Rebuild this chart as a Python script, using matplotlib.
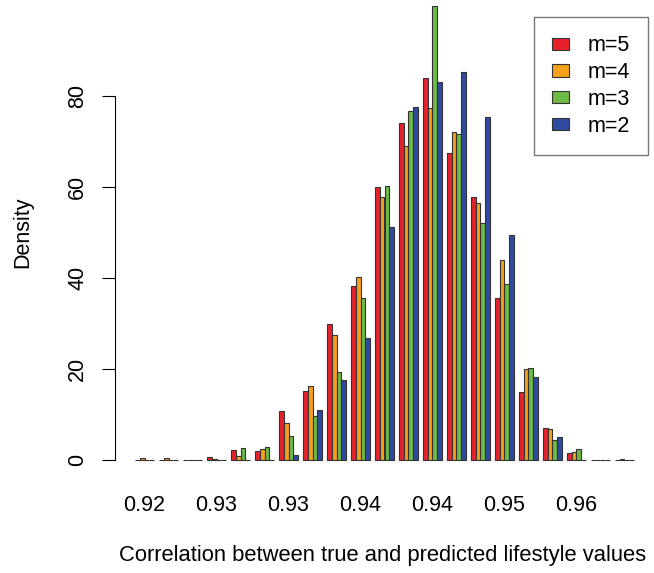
import matplotlib
matplotlib.use('Agg')
import matplotlib.pyplot as plt
from matplotlib.patches import Patch
import numpy as np

plt.rcParams['font.family'] = ['Liberation Sans', 'DejaVu Sans']

# density per bin, one list per m
red_m5 = [0, 0, 0, 0.6, 2.1, 2.0, 10.8, 15.2, 29.9, 38.2, 60.0, 74.0, 84.0, 67.4, 57.7, 35.5, 15.0, 7.0, 1.5, 0, 0]
orange_m4 = [0.4, 0.4, 0, 0.2, 0.8, 2.4, 8.1, 16.2, 27.4, 40.3, 57.7, 69.0, 77.3, 72.0, 56.5, 43.9, 19.9, 6.8, 1.8, 0, 0.3]
green_m3 = [0, 0, 0, 0, 2.7, 2.9, 5.2, 9.7, 19.4, 35.5, 60.2, 76.6, 99.7, 71.6, 52.0, 38.7, 20.3, 4.3, 2.5, 0, 0]
blue_m2 = [0, 0, 0, 0, 0, 0, 1.1, 11.0, 17.6, 26.9, 51.2, 77.5, 83.0, 85.2, 75.3, 49.5, 18.2, 5.0, 0, 0, 0]

series = [red_m5, orange_m4, green_m3, blue_m2]
labels = ['m=5', 'm=4', 'm=3', 'm=2']
colors = ['#E8202A', '#F6A11C', '#6DBB45', '#2F4A9E']

tick_groups = [0, 3, 6, 9, 12, 15, 18]
tick_labels = ['0.92', '0.93', '0.93', '0.94', '0.94', '0.95', '0.96']

fs = 15.5

fig = plt.figure(figsize=(6.54, 5.73), dpi=100)
ax = fig.add_axes([115 / 654, (573 - 478.2) / 573, 539 / 654, 491.4 / 573])

n_groups = len(red_m5)
groups = np.arange(n_groups)
for k, (vals, col, lab) in enumerate(zip(series, colors, labels)):
    ax.bar(groups * 5 + k + 0.5, vals, width=1.0, color=col,
           edgecolor='#333333', linewidth=0.8, label=lab)

ax.set_xlim(-4.16, 108.16)
ax.set_ylim(-4, 104)

for side in ['top', 'right', 'bottom']:
    ax.spines[side].set_visible(False)
ax.spines['left'].set_bounds(0, 80)
ax.spines['left'].set_linewidth(0.8)

ax.set_yticks([0, 20, 40, 60, 80])
ax.tick_params(axis='y', length=9.4, width=0.8, labelsize=fs, pad=10,
               labelrotation=90)
for t in ax.get_yticklabels():
    t.set_va('center')

ax.set_xticks([g * 5 + 2 for g in tick_groups])
ax.set_xticklabels(tick_labels)
ax.tick_params(axis='x', length=0, labelsize=fs, pad=12)

ax.text(-(115 - 22.5) / 539, 0.5, 'Density', rotation=90, fontsize=fs,
        ha='center', va='center', transform=ax.transAxes)
ax.text(0.496, -(555 - 478.2) / 491.4, 'Correlation between true and predicted lifestyle values',
        fontsize=15.8, ha='center', va='center', transform=ax.transAxes)

handles = [Patch(facecolor=c, edgecolor='#333333', linewidth=0.8) for c in colors]
leg = ax.legend(handles, labels, loc='upper right', bbox_to_anchor=(648 / 654, 1 - 17 / 573),
                bbox_transform=fig.transFigure, fontsize=fs, frameon=True, fancybox=False,
                handlelength=0.8, handleheight=0.5, handletextpad=0.85,
                labelspacing=0.27, borderpad=0.85, borderaxespad=0)
leg.get_frame().set_edgecolor('#555555')
leg.get_frame().set_linewidth(1.0)

fig.savefig('out.png', dpi=100)
